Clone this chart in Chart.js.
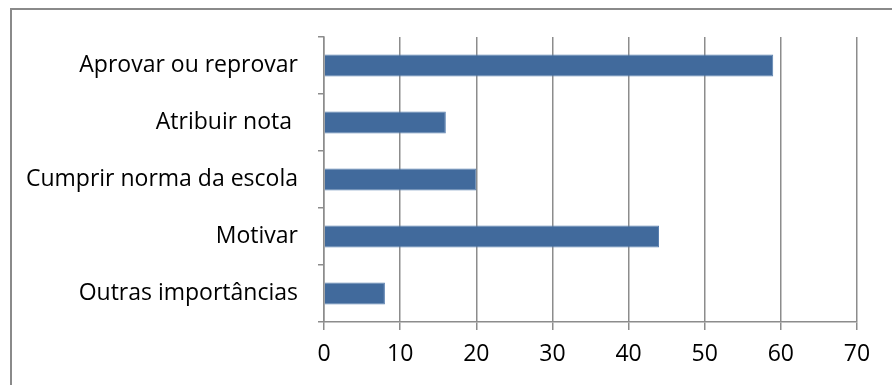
<!DOCTYPE html>
<html lang="pt">
<head>
    <meta charset="UTF-8">
    <title>Importância da avaliação</title>
    <script src="https://cdn.jsdelivr.net/npm/chart.js@4/dist/chart.umd.min.js"></script>
    <style>
        body { margin: 0; background: #fff; }
        #wrap { position: relative; width: 892px; height: 385px; overflow: hidden; }
        #frame { position: absolute; left: 10px; top: 8px; width: 1000px; height: 500px; border: 2px solid #8a8a8a; }
        #myChart { position: absolute; left: 0; top: 0; }
    </style>
</head>
<body>
<div id="wrap">
    <div id="frame"></div>
    <canvas id="myChart" width="892" height="385"></canvas>
</div>
<script>

    const categorias = ["Aprovar ou reprovar", "Atribuir nota ", "Cumprir norma da escola", "Motivar", "Outras importâncias"];
    const valores = [59, 16, 20, 44, 8];
    const eixoMin = 0;
    const eixoMax = 70;
    const eixoPasso = 10;

    const corBarra = "#416a9c";
    const corLinha = "#8c8c8c";
    const fonte = { family: "Open Sans", size: 23 };

    const myChart = new Chart("myChart", {
        type: "bar",
        data: {
            labels: categorias,
            datasets: [{
                data: valores,
                backgroundColor: corBarra,
                borderColor: "#5a80b0",
                borderWidth: 1,
                barPercentage: 0.39,
                categoryPercentage: 1
            }]
        },
        options: {
            indexAxis: "y",
            responsive: false,
            animation: false,
            devicePixelRatio: 1,
            layout: { padding: { top: 37, right: 35, bottom: 0, left: 0 } },
            plugins: {
                legend: { display: false },
                tooltip: { enabled: false }
            },
            scales: {
                x: {
                    min: eixoMin,
                    max: eixoMax,
                    ticks: { stepSize: eixoPasso, color: "#000", font: fonte, padding: 11 },
                    grid: { color: corLinha, lineWidth: 1.5, tickLength: 8 },
                    border: { color: corLinha, width: 1.5 },
                    afterFit: (scale) => { scale.height = 63; }
                },
                y: {
                    ticks: { color: "#000", font: fonte, padding: 20 },
                    grid: { color: corLinha, lineWidth: 1.5, tickLength: 6, drawOnChartArea: false, offset: true },
                    border: { color: corLinha, width: 1.5 },
                    afterFit: (scale) => { scale.width = 324; }
                }
            }
        }
    });
</script>
</body>
</html>
